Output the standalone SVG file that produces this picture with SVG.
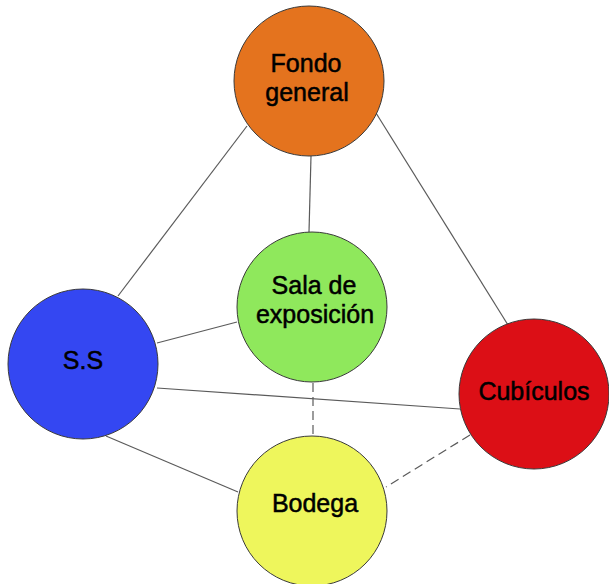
<svg xmlns="http://www.w3.org/2000/svg" width="609" height="584" viewBox="0 0 609 584">
<style>
.edge{stroke:#5a5a5a;stroke-width:1.2;fill:none}
.dash{stroke-dasharray:9 5}
.node{stroke:#3a3a3a;stroke-width:1}
.lbl{font-family:"Liberation Sans",Arial,sans-serif;font-size:25px;fill:#000;stroke:#000;stroke-width:0.5;text-anchor:middle}
</style>
<rect width="609" height="584" fill="#fff"/>
<g id="connectors">
<line class="edge" x1="247" y1="126" x2="118" y2="296"/>
<line class="edge" x1="311" y1="156" x2="309" y2="232"/>
<line class="edge" x1="376" y1="113" x2="508" y2="325"/>
<line class="edge" x1="157" y1="343" x2="237" y2="322"/>
<line class="edge" x1="157" y1="388" x2="460" y2="409"/>
<line class="edge" x1="106" y1="436" x2="238" y2="492"/>
<line class="edge dash" x1="313" y1="383" x2="313" y2="436"/>
<line class="edge dash" x1="470" y1="435" x2="386" y2="487"/>
</g>
<g id="fondo">
<circle class="node" cx="309" cy="81" r="75" fill="#E4731E"/>
<text class="lbl" x="306" y="72">Fondo</text>
<text class="lbl" x="307" y="101">general</text>
</g>
<g id="sala">
<circle class="node" cx="312" cy="307" r="75" fill="#8FE85C"/>
<text class="lbl" x="314" y="294">Sala de</text>
<text class="lbl" x="315" y="323">exposición</text>
</g>
<g id="ss">
<circle class="node" cx="83" cy="364" r="75" fill="#3447F2"/>
<text class="lbl" x="83" y="369">S.S</text>
</g>
<g id="cubiculos">
<circle class="node" cx="534" cy="394" r="75" fill="#DC0F16"/>
<text class="lbl" x="534" y="400">Cubículos</text>
</g>
<g id="bodega">
<circle class="node" cx="312" cy="511" r="75" fill="#EEF65C"/>
<text class="lbl" x="315" y="512">Bodega</text>
</g>
</svg>
